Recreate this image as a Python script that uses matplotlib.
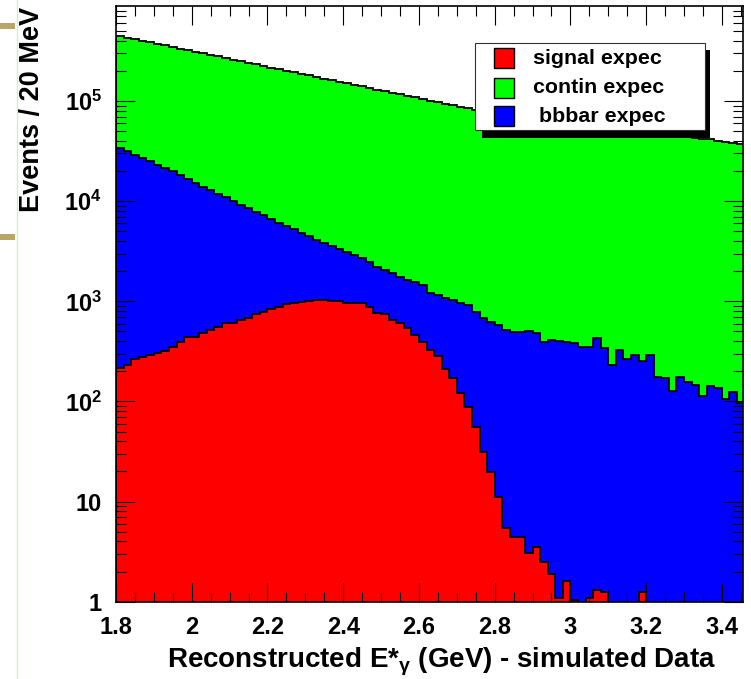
import numpy as np
import matplotlib
matplotlib.use("Agg")
import matplotlib.pyplot as plt
from matplotlib.patches import Rectangle
from matplotlib.lines import Line2D
from matplotlib.ticker import (FixedLocator, FixedFormatter, LogLocator,
                               MultipleLocator, NullFormatter, FuncFormatter)

# ---------------- data (events / 20 MeV bin) ----------------
bin_low = 1.8
bin_width = 0.02
n_bins = 83

signal = [214, 231, 265, 275, 290, 302, 318, 351, 394, 436, 445, 478, 516, 556,
          601, 610, 649, 675, 740, 786, 830, 869, 931, 967, 975, 1005, 1028, 1025,
          1000, 1000, 967, 965, 965, 881, 768, 740, 649, 601, 536, 460, 394, 326,
          284, 209, 170, 122, 88, 56, 31, 19.8, 11.1, 5.4, 4.4, 4.4, 3.1, 3.5, 2.5,
          1.9, 1.1, 1.6, 1.05, 0, 1.08, 1.3, 1.25, 0, 0, 0, 0, 1.25, 0, 0, 0, 0, 0,
          0, 0, 0, 0, 0, 0, 0, 0]

bbbar = [33690, 31370, 28935, 26625, 24810, 22900, 21080, 19650, 17810, 16160,
         14755, 13320, 12380, 11240, 10300, 9370, 8490, 7855, 7040, 6475, 5790,
         5170, 4710, 4290, 3825, 3475, 3050, 2785, 2560, 2320, 2135, 1925, 1735,
         1580, 1430, 1310, 1250, 1150, 1095, 1110, 1055, 875, 865, 860, 860, 830,
         828, 729, 644, 604, 567, 510, 492, 486, 497, 475, 392, 408, 404, 392, 379,
         351, 349, 425, 337, 231, 325, 263, 290, 254, 290, 176, 170, 128, 176, 157,
         146, 113, 142, 135, 107, 125, 95.5]

contin = [412800, 398900, 385800, 373100, 360400, 349200, 337500, 325900, 316000,
          305500, 295300, 285400, 275500, 267200, 258300, 249400, 241500, 233000,
          225000, 217100, 209700, 202900, 195800, 188800, 182300, 176200, 170100,
          164100, 158200, 153000, 147600, 142300, 137300, 132700, 128100, 123500,
          119200, 114900, 111100, 107000, 103300, 100000, 96350, 92930, 89570, 86350,
          83380, 80520, 78630, 76480, 74420, 72390, 70600, 68710, 67000, 65420,
          64010, 62390, 61000, 59610, 58320, 57050, 55850, 54670, 53660, 52570,
          51580, 50540, 49610, 48650, 47810, 47020, 46330, 45470, 44720, 43840,
          42850, 42090, 41260, 40170, 38990, 37880, 36800]

legend_labels = ["signal expec", "contin expec", " bbbar expec"]
y_tick_values = [1, 10, 100, 1e3, 1e4, 1e5]
y_tick_labels = ["1", "10", r"$\mathbf{10^{2}}$", r"$\mathbf{10^{3}}$",
                 r"$\mathbf{10^{4}}$", r"$\mathbf{10^{5}}$"]
x_title = r"Reconstructed E*$_{\gamma}$ (GeV) - simulated Data"
y_title = "Events / 20 MeV"

# ---------------- style ----------------
plt.rcParams["font.family"] = ["Liberation Sans", "DejaVu Sans"]
plt.rcParams["font.weight"] = "bold"
plt.rcParams["mathtext.fontset"] = "custom"
plt.rcParams["mathtext.rm"] = "Liberation Sans:bold"
plt.rcParams["mathtext.bf"] = "Liberation Sans:bold"
plt.rcParams["mathtext.it"] = "Liberation Sans:bold"

W, H = 751, 679
fig = plt.figure(figsize=(W / 100, H / 100), dpi=100)
fig.patch.set_facecolor("white")

def fx(px):
    return px / W

def fy(py):
    return 1 - py / H

ax = fig.add_axes([fx(116), fy(601.7), (742.7 - 116) / W, (601.7 - 6) / H])

edges = bin_low + bin_width * np.arange(n_bins + 1)
sig = np.array(signal, float)
bb = np.array(bbbar, float)
co = np.array(contin, float)
stack_red = sig
stack_blue = sig + bb
stack_green = sig + bb + co

def positive(v):
    return np.where(v > 0, v, 1e-3)

for vals, col in [(stack_green, "#00ff00"), (stack_blue, "#0000ff"), (stack_red, "#ff0000")]:
    ax.stairs(positive(vals), edges, baseline=1e-3, fill=True,
              facecolor=col, edgecolor="black", linewidth=1.3)

ax.set_yscale("log")
ax.set_ylim(1, 8.9e5)
ax.set_xlim(1.8, 3.455)

ax.xaxis.set_major_locator(MultipleLocator(0.2))
ax.xaxis.set_minor_locator(MultipleLocator(0.05))
ax.xaxis.set_major_formatter(FuncFormatter(lambda v, _: f"{v:g}"))
ax.yaxis.set_major_locator(FixedLocator(y_tick_values))
ax.yaxis.set_major_formatter(FixedFormatter(y_tick_labels))
ax.yaxis.set_minor_locator(LogLocator(base=10, subs=np.arange(2, 10), numticks=20))
ax.yaxis.set_minor_formatter(NullFormatter())

ax.tick_params(axis="both", which="both", direction="in", top=True, right=True,
               width=0.8, colors="black")
ax.tick_params(axis="both", which="major", length=13.5, labelsize=17)
ax.tick_params(axis="both", which="minor", length=7)
ax.tick_params(axis="y", which="major", pad=10)
ax.tick_params(axis="x", which="major", pad=10.5)
for s in ax.spines.values():
    s.set_linewidth(1.2)
    s.set_color("black")

# axis titles
fig.text(fx(167), fy(668), x_title, ha="left", va="baseline", fontsize=20,
         fontweight="bold")
fig.text(fx(32), fy(109), y_title, ha="center", va="center", rotation=90,
         fontsize=19.5, fontweight="bold")

# legend (ROOT style box with shadow)
fig.add_artist(Rectangle((fx(482), fy(137.5)), (710 - 482) / W, (137.5 - 50) / H,
                         transform=fig.transFigure, facecolor="black",
                         edgecolor="none", zorder=5))
fig.add_artist(Rectangle((fx(475), fy(130)), (705 - 475) / W, (130 - 43) / H,
                         transform=fig.transFigure, facecolor="white",
                         edgecolor="#333333", linewidth=0.8, zorder=6))
legend_colors = ["#ff0000", "#00ff00", "#0000ff"]
row_y = [58.3, 87.5, 116.3]
for lab, col, ry in zip(legend_labels, legend_colors, row_y):
    fig.add_artist(Rectangle((fx(493.5), fy(ry + 10)), 20 / W, 20 / H,
                             transform=fig.transFigure, facecolor=col,
                             edgecolor="black", linewidth=1.0, zorder=7))
    fig.text(fx(533), fy(ry), lab, ha="left", va="center", fontsize=15.4,
             fontweight="bold", zorder=8)

# slide decorations at the left border
fig.add_artist(Line2D([fx(17), fx(17)], [0, 1], transform=fig.transFigure,
                      color="#c8f3c8", linewidth=1.0))
for ytop in (22.7, 233.5):
    fig.add_artist(Rectangle((0, fy(ytop + 6)), 15 / W, 6 / H,
                             transform=fig.transFigure, facecolor="#b9a56a",
                             edgecolor="none"))

fig.savefig("out.png", dpi=100)
